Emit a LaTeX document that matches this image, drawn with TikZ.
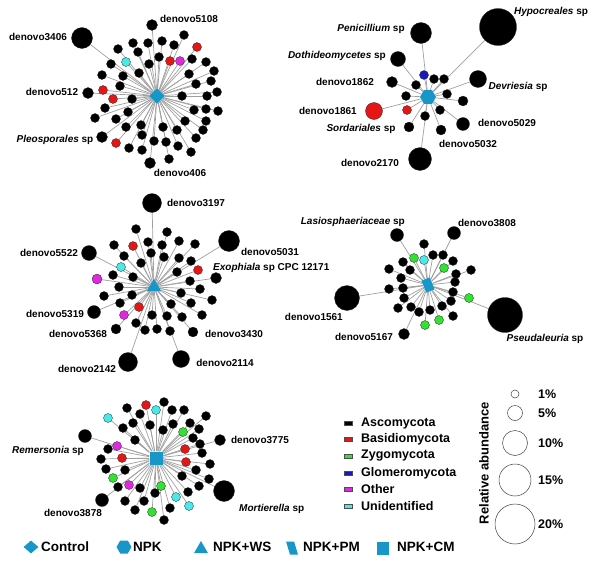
\documentclass[tikz,border=0pt]{standalone}
\usepackage{fontspec}
\setmainfont{Liberation Sans}
\usetikzlibrary{shapes.geometric,backgrounds}
\definecolor{ctr}{RGB}{25,150,200}
\colorlet{k}{black}
\definecolor{bs}{RGB}{228,22,22}
\definecolor{zy}{RGB}{50,225,50}
\definecolor{gl}{RGB}{25,25,185}
\definecolor{ot}{RGB}{225,40,225}
\definecolor{un}{RGB}{75,232,232}
\definecolor{edg}{RGB}{160,160,160}
\tikzset{
  dot/.style={circle, inner sep=0pt, draw=black!85, line width=0.3pt},
  edge/.style={draw=edg, line width=0.7pt},
  lab/.style={font=\bfseries\fontsize{10}{12}\selectfont, inner sep=0pt},
  leg/.style={font=\bfseries\fontsize{12.5}{14}\selectfont, inner sep=0pt, anchor=west},
  bleg/.style={font=\bfseries\fontsize{13.5}{15}\selectfont, inner sep=0pt, anchor=west},
  ctrshape/.style={fill=ctr, inner sep=0pt},
  dia/.style={ctrshape, diamond, minimum width=16pt, minimum height=16pt},
  hexa/.style={ctrshape, regular polygon, regular polygon sides=6, minimum size=16pt},
  tri/.style={ctrshape, regular polygon, regular polygon sides=3, minimum size=17pt},
  para/.style={ctrshape, rectangle, minimum height=14pt, minimum width=8pt, xslant=-0.3, transform shape},
  tilt/.style={ctrshape, rectangle, minimum height=13pt, minimum width=9pt, rotate=22},
  sq/.style={ctrshape, rectangle, minimum size=13pt},
  phy/.style={draw=black!70, line width=0.3pt, minimum width=8pt, minimum height=3.5pt, inner sep=0pt},
  ring/.style={circle, draw=black!75, line width=0.5pt, inner sep=0pt}
}
\newcommand{\mynet}[3]{%
  \foreach \x/\y/\r/\c [count=\i] in {#3} {%
    \node[dot, fill=\c, minimum size=2*\r+1] (#1\i) at (\x,\y) {};
    \begin{pgfonlayer}{background}\draw[edge] (#2) -- (#1\i);\end{pgfonlayer}
  }}
\begin{document}
\begin{tikzpicture}[x=1pt,y=-1pt]
\useasboundingbox (0,0) rectangle (600,562);
% ---------- network 1: Control
\node[dia] (C1) at (157,96) {};
\mynet{a}{C1}{152/25/5/k, 82/38/10/k, 133/43/4/k, 148/43/4/k, 162/41/4/k, 184/35/4/k, 197/47/4/bs, 118/49/4/k, 138/52/4/k, 174/45/4/k, 159/57/4/k, 126/62/4/un, 170/61/4/bs, 180/61/4/ot, 192/59/4/k, 206/62/4/k, 111/64/4/k, 149/64/4/k, 214/71/4/k, 102/75/4/k, 123/76/4/k, 139/73/4/k, 189/74/4/k, 211/81/4/k, 120/86/4/k, 196/84/4/k, 88/93/5/k, 103/90/4/bs, 217/92/4/k, 113/99/4/bs, 132/99/4/k, 182/96/4/k, 207/96/4/k, 105/108/4/k, 194/110/4/k, 206/109/4/k, 218/111/4/k, 95/118/4/k, 116/119/4/k, 128/112/4/k, 185/121/4/k, 206/121/4/k, 141/125/4/k, 126/127/4/k, 163/127/4/k, 177/130/4/k, 203/130/4/k, 102/137/5/k, 142/135/4/k, 116/143/4/bs, 154/141/4/k, 166/142/4/k, 178/146/4/k, 196/138/4/k, 129/148/4/k, 142/150/4/k, 191/152/4/k, 169/159/4/k, 150/163/5/k}
\node[lab] (l11) at (189,19) {denovo5108};
\node[lab] (l12) at (38,37) {denovo3406};
\node[lab] (l13) at (52,92) {denovo512};
\node[lab] (l14) at (55,140) {\textit{Pleosporales} sp};
\node[lab] (l15) at (180,173) {denovo406};
% ---------- network 2: NPK
\node[hexa] (C2) at (428,97) {};
\mynet{b}{C2}{498/27/18/k, 421/33/10/k, 398/59/7/k, 424/75/4/gl, 434/79/4/k, 444/79/4/k, 416/85/4/k, 392/82/5/k, 478/79/8/k, 406/96/4/k, 447/94/4/k, 463/101/4.5/k, 374/111/8/bs, 407/110/4/bs, 440/110/4/k, 425/116/4/k, 409/127/4.5/k, 441/130/4.5/k, 463/124/6/k, 420/159/11/k}
\node[lab] (l21) at (551,12) {\textit{Hypocreales} sp};
\node[lab] (l22) at (371,29) {\textit{Penicillium} sp};
\node[lab,anchor=east] (l23) at (386,56) {\textit{Dothideomycetes} sp};
\node[lab] (l24) at (345,82) {denovo1862};
\node[lab] (l25) at (518,87) {\textit{Devriesia} sp};
\node[lab,anchor=east] (l26) at (357,111) {denovo1861};
\node[lab] (l27) at (361,129) {\textit{Sordariales} sp};
\node[lab] (l28) at (507,123) {denovo5029};
\node[lab] (l29) at (468,144) {denovo5032};
\node[lab] (l210) at (370,163) {denovo2170};
% ---------- network 3: NPK+WS
\node[tri] (C3) at (154,287) {};
\mynet{c}{C3}{152/203/9/k, 229/241/10/k, 89/253/7/k, 97/279/4.5/ot, 121/267/4/un, 133/246/4/bs, 198/270/4/bs, 216/278/5/k, 94/312/6/k, 124/315/4/ot, 139/307/4/bs, 116/329/4.5/k, 193/332/4.5/k, 128/362/9/k, 181/359/8/k, 136/229/4/k, 167/232/4/k, 114/245/4/k, 148/242/4/k, 162/245/4/k, 179/241/4/k, 195/244/4/k, 124/256/4/k, 151/253/4/k, 164/257/4/k, 179/258/4/k, 191/261/4/k, 141/263/4/k, 177/272/4/k, 113/275/4/k, 133/277/4/k, 190/281/4/k, 119/287/4/k, 200/289/4/k, 104/296/4/k, 132/295/4/k, 181/293/4/k, 212/300/4/k, 120/303/4/k, 171/304/4/k, 191/303/4/k, 152/315/4/k, 167/316/4/k, 182/317/4/k, 202/315/4/k, 136/323/4/k, 145/330/4/k, 157/329/4/k, 170/331/4/k}
\node[lab] (l31) at (196,203) {denovo3197};
\node[lab] (l32) at (49,253) {denovo5522};
\node[lab] (l33) at (270,252) {denovo5031};
\node[lab,anchor=west] (l34) at (213,268) {\textit{Exophiala} sp CPC 12171};
\node[lab] (l35) at (55,314) {denovo5319};
\node[lab] (l36) at (78,334) {denovo5368};
\node[lab] (l37) at (234,334) {denovo3430};
\node[lab] (l38) at (87,369) {denovo2142};
\node[lab] (l39) at (225,363) {denovo2114};
% ---------- network 4: NPK+PM
\node[tilt] (C4) at (428,285) {};
\mynet{d}{C4}{397/235/6/k, 454/233/6/k, 347/298/12/k, 505/315/17/k, 404/334/5/k, 414/258/4/zy, 424/260/4/un, 444/268/4/zy, 469/298/4/zy, 425/325/4/zy, 439/320/4/zy, 424/244/4/k, 433/255/4/k, 443/255/4/k, 403/262/4/k, 453/261/4/k, 389/269/4/k, 410/270/4/k, 456/274/4/k, 471/270/4/k, 401/278/4/k, 455/282/4/k, 389/289/4/k, 403/288/4/k, 453/292/4/k, 404/298/4/k, 451/301/4/k, 398/308/4/k, 411/307/4/k, 442/306/4/k, 430/310/4/k, 419/312/4/k, 453/316/4/k}
\node[lab,anchor=east] (l41) at (405,222) {\textit{Lasiosphaeriaceae} sp};
\node[lab] (l42) at (487,223) {denovo3808};
\node[lab,anchor=east] (l43) at (343,317) {denovo1561};
\node[lab] (l44) at (364,337) {denovo5167};
\node[lab] (l45) at (545,339) {\textit{Pseudaleuria} sp};
% ---------- network 5: NPK+CM
\node[sq] (C5) at (156,458) {};
\mynet{e}{C5}{85/436/6/k, 220/440/5/k, 224/491/10/k, 102/500/6/k, 146/405/4/bs, 156/410/4/un, 108/418/4/un, 183/432/4/zy, 117/446/4/ot, 185/449/4/bs, 122/458/4/bs, 186/462/4/bs, 113/478/4/zy, 129/485/4/ot, 161/486/4/zy, 176/497/4/un, 189/506/4/un, 152/512/4/zy, 164/402/4/k, 127/408/4/k, 172/410/4/k, 184/410/4/k, 140/414/4/k, 206/416/4/k, 133/423/4/k, 150/425/4/k, 173/424/4/k, 190/423/4/k, 123/428/4/k, 163/430/4/k, 199/429/4/k, 135/440/4/k, 193/438/4/k, 200/444/4/k, 108/449/4/k, 202/453/4/k, 101/459/4/k, 210/464/4/k, 106/469/4/k, 125/470/4/k, 196/470/4/k, 182/476/4/k, 209/479/4/k, 118/487/4/k, 140/488/4/k, 199/486/4/k, 188/492/4/k, 155/493/4/k, 125/501/4/k, 144/501/4/k, 170/508/4/k, 135/510/4/k, 164/520/4/k}
\node[lab] (l51) at (48,451) {\textit{Remersonia} sp};
\node[lab] (l52) at (260,440) {denovo3775};
\node[lab] (l53) at (73,513) {denovo3878};
\node[lab,anchor=west] (l54) at (239,509) {\textit{Mortierella} sp};
% ---------- phylum legend
\foreach \c/\t/\y [count=\i] in {k/Ascomycota/423, bs/Basidiomycota/439, zy/Zygomycota/456, gl/Glomeromycota/473, ot/Other/489, un/Unidentified/506} {
  \node[phy, fill=\c] (p\i) at (348,\y) {};
  \node[leg] (pt\i) at (361,\y) {\t};
}
% ---------- abundance legend
\node[font=\bfseries\fontsize{13}{15}\selectfont, rotate=90, inner sep=0pt] (ra) at (484,463) {Relative abundance};
\foreach \y/\r/\t [count=\i] in {394/4/1\%, 413/7.5/5\%, 443/12.5/10\%, 480/16/15\%, 524/20/20\%} {
  \node[ring, minimum size=2*\r] (rc\i) at (515,\y) {};
  \node[leg] (rt\i) at (538,\y) {\t};
}
% ---------- treatment legend
\node[dia, minimum width=15pt, minimum height=13pt] (s1) at (31,547) {};
\node[bleg] (t1) at (41,547) {Control};
\node[hexa, minimum size=15pt] (s2) at (124,547) {};
\node[bleg] (t2) at (133,547) {NPK};
\node[tri, minimum size=16pt] (s3) at (201,549) {};
\node[bleg] (t3) at (213,547) {NPK+WS};
\node[para, minimum height=13pt] (s4) at (292,548) {};
\node[bleg] (t4) at (303,547) {NPK+PM};
\node[sq, minimum width=12pt, minimum height=13pt] (s5) at (383,548) {};
\node[bleg] (t5) at (397,547) {NPK+CM};
\end{tikzpicture}
\end{document}
